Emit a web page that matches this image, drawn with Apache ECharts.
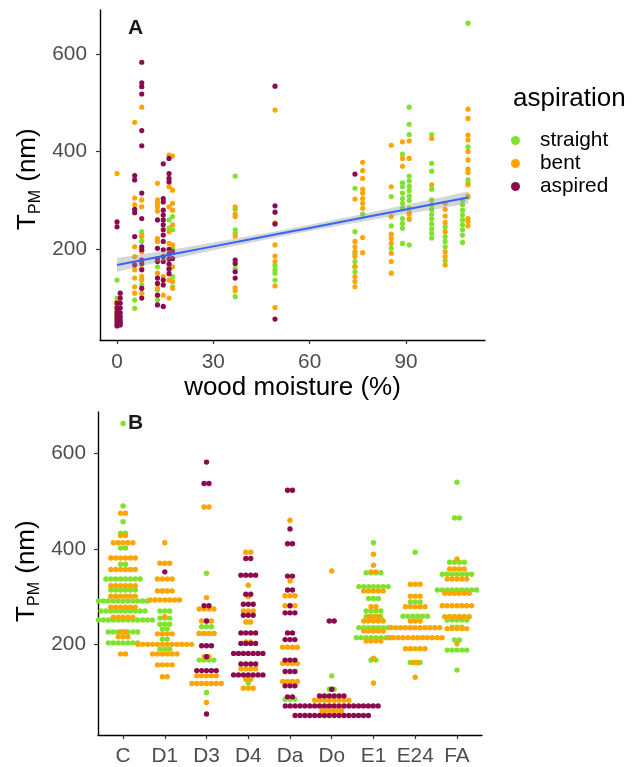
<!DOCTYPE html>
<html><head><meta charset="utf-8">
<script src="https://cdn.jsdelivr.net/npm/echarts@6/dist/echarts.min.js"></script>
<style>html,body{margin:0;padding:0;background:#fff}#c{width:639px;height:767px}</style>
</head><body><div id="c"></div>
<script>
// ---------- Panel A data: [wood moisture %, T_PM nm] ----------
const straightA = [
[0,137],[0,100],[5.5,96],[5.5,79],[7.7,236],[7.7,226],[7.7,216],[7.7,127],
[12.6,164],[12.6,117],[12.6,96],[16.2,260],[16.2,244],
[17.3,267],[17.3,240],[17.3,202],[17.3,144],[17.3,123],
[36.8,350],[36.8,282],[36.8,240],[36.8,233],[36.8,161],[36.8,103],
[49.2,167],[49.2,158],[49.2,151],[49.2,137],
[74.1,325],[74.1,236],[74.1,190],[74.1,175],[74.1,165],[74.1,154],
[76.5,272],[85.4,308],[85.4,248],[85.4,202],
[88.9,395],[88.9,336],[88.9,328],[88.9,315],[88.9,304],[88.9,294],[88.9,284],[88.9,263],[88.9,253],[88.9,243],[88.9,212],
[91,491],[91,456],[91,435],[91,350],[91,340],[91,329],[91,320],[91,309],[91,300],[91,284],[91,272],[91,261],[91,209],
[98,435],[98,376],[98,360],[98,323],[98,301],[98,291],[98,281],[98,271],[98,262],[98,252],[98,242],[98,233],[98,223],
[102.2,246],[102.2,226],[102.2,216],[102.2,205],[102.2,177],
[107.6,301],[107.6,291],[107.6,280],[107.6,270],[107.6,260],[107.6,250],[107.6,240],[107.6,229],[107.6,214],
[109.3,663],[109.3,410],[109.3,342],[109.3,335],[109.3,307]
];
const bentA = [
[0,355],[0,93],[0,85],[0,78],[0,70],[0,62],[0,55],[0.6,88],[0.6,74],[0.6,66],
[5.5,460],[5.5,305],[5.5,291],[5.5,205],[5.5,185],[5.5,158],[5.5,141],[5.5,123],[5.5,110],
[7.7,491],[7.7,301],[7.7,287],[7.7,228],[7.7,195],[7.7,161],[7.7,144],[7.7,137],[7.7,110],
[12.6,335],[12.6,301],[12.6,294],[12.6,287],[12.6,278],[12.6,222],[12.6,216],[12.6,151],[12.6,120],
[14.4,144],[14.4,106],
[16.2,393],[16.2,328],[16.2,287],[16.2,236],[16.2,212],[16.2,158],[16.2,137],[16.2,100],
[17.3,391],[17.3,321],[17.3,294],[17.3,280],[17.3,250],[17.3,209],[17.3,164],[17.3,134],[17.3,120],
[36.8,287],[36.8,272],[36.8,267],[36.8,227],[36.8,121],[36.8,115],
[49.2,485],[49.2,254],[49.2,209],[49.2,186],[49.2,175],[49.2,125],[49.2,81],
[74.1,303],[74.1,216],[74.1,205],[74.1,195],[74.1,185],[74.1,164],[74.1,144],[74.1,134],[74.1,123],
[76.5,378],[76.5,361],[76.5,345],[76.5,323],[76.5,315],[76.5,304],[76.5,294],[76.5,284],[76.5,224],[76.5,193],
[85.4,413],[85.4,328],[85.4,267],[85.4,231],[85.4,222],[85.4,212],[85.4,192],[85.4,175],[85.4,151],
[88.9,420],[88.9,386],[88.9,370],[91,422],[91,386],[91,274],[91,263],
[98,427],[98,332],
[102.2,294],[102.2,282],[102.2,268],[102.2,255],[102.2,236],[102.2,195],[102.2,185],[102.2,168],
[109.3,487],[109.3,468],[109.3,434],[109.3,424],[109.3,400],[109.3,383],[109.3,364],[109.3,357],[109.3,332],[109.3,309],[109.3,263],[109.3,257],[109.3,248]
];
const aspiredA = [
[0,256],[0,246],[0,90],[0,80],[0,72],[0,65],[0,58],[0,52],[0,47],[0,43],
[1,110],[1,100],[1,90],[1,80],[1,70],[1,62],[1,55],[1,50],[1,45],
[5.5,351],[5.5,342],[5.5,282],[5.5,275],[5.5,226],[5.5,168],
[7.7,583],[7.7,541],[7.7,533],[7.7,518],[7.7,443],[7.7,412],[7.7,315],[7.7,263],[7.7,205],[7.7,199],[7.7,178],[7.7,171],[7.7,158],[7.7,120],[7.7,100],
[12.6,260],[12.6,202],[12.6,181],[12.6,175],[12.6,141],[12.6,130],[12.6,106],[12.6,86],
[14.4,375],[14.4,304],[14.4,297],[14.4,280],[14.4,270],[14.4,260],[14.4,250],[14.4,240],[14.4,229],[14.4,216],[14.4,199],[14.4,185],[14.4,175],[14.4,137],[14.4,127],[14.4,83],
[16.2,386],[16.2,355],[16.2,345],[16.2,338],[16.2,200],[16.2,190],[16.2,180],[16.2,170],[16.2,160],[16.2,150],
[17.3,195],[17.3,181],
[36.8,178],[36.8,171],[36.8,154],[36.8,141],
[49.2,534],[49.2,289],[49.2,276],[49.2,252],[49.2,57],
[74.1,354]
];
// linear fit and its confidence band
const fitX   = [0, 10, 20, 30, 40, 50, 60, 70, 80, 90, 100, 109.4];
const fitY   = [168, 180.6, 193.2, 205.9, 218.5, 231.1, 243.7, 256.3, 269, 281.6, 294.2, 306];
const bandLo = [154, 169.1, 183.7, 197.9, 211.5, 224.6, 237.2, 249.3, 261, 272.1, 283.2, 293.5];
const bandHi = [182, 192.1, 202.7, 213.9, 225.5, 237.6, 250.2, 263.3, 277, 291.1, 305.2, 318.5];
const ticksA_x = [0, 30, 60, 90];
const ticksY = [200, 400, 600];

// ---------- Panel B data: [category, binned T_PM, number of dots] ----------
const categories = ['C','D1','D3','D4','Da','Do','E1','E24','FA'];
const straightB = [
['C',663,1],['C',490,1],['C',457,1],['C',433,2],['C',402,2],['C',368,2],['C',337,8],['C',314,6],['C',291,11],['C',270,10],['C',251,13],['C',226,7],['C',203,7],
['D1',312,2],['D1',270,3],['D1',255,3],['D1',242,3],['D1',232,2],['D1',211,2],['D1',190,3],
['D3',349,1],['D3',237,3],['D3',223,4],['D3',167,4],['D3',99,1],
['D4',247,1],['D4',119,1],
['Da',85,3],
['Do',134,1],['Do',106,2],
['E1',413,1],['E1',350,4],['E1',321,7],['E1',296,3],['E1',270,4],['E1',258,4],['E1',235,7],['E1',214,8],['E1',167,2],
['E24',393,1],['E24',289,3],['E24',259,6],['E24',162,3],
['FA',540,1],['FA',465,2],['FA',372,4],['FA',347,7],['FA',314,9],['FA',258,4],['FA',251,5],['FA',236,3],['FA',209,2],['FA',188,5],['FA',146,1]
];
const bentB = [
['C',475,2],['C',428,2],['C',413,5],['C',381,6],['C',357,6],['C',323,6],['C',301,6],['C',278,6],['C',257,5],['C',226,2],['C',216,3],['C',180,2],
['D1',413,1],['D1',370,3],['D1',337,4],['D1',312,4],['D1',293,7],['D1',258,1],['D1',222,4],['D1',200,12],['D1',180,6],['D1',157,4],['D1',132,2],
['D3',488,2],['D3',298,1],['D3',274,4],['D3',249,3],['D3',223,4],['D3',174,2],['D3',134,5],['D3',118,7],['D3',78,1],
['D4',393,2],['D4',324,1],['D4',300,1],['D4',270,3],['D4',247,2],['D4',205,2],['D4',149,4],['D4',127,2],['D4',108,3],
['Da',460,1],['Da',333,1],['Da',302,3],['Da',281,3],['Da',194,4],['Da',160,4],['Da',122,4],
['Do',354,1],['Do',83,8],['Do',61,5],
['E1',389,1],['E1',366,1],['E1',352,2],['E1',312,5],['E1',279,2],['E1',258,3],['E1',249,5],['E1',228,5],['E1',207,4],['E1',171,1],['E1',119,1],
['E24',326,3],['E24',301,3],['E24',279,5],['E24',249,3],['E24',235,11],['E24',214,12],['E24',191,5],['E24',162,2],['E24',131,1],
['FA',379,1],['FA',358,4],['FA',337,5],['FA',307,6],['FA',281,7],['FA',258,6],['FA',233,5],['FA',201,1]
];
const aspiredB = [
['D1',352,1],
['D3',582,1],['D3',537,2],['D3',281,2],['D3',249,1],['D3',197,3],['D3',174,1],['D3',145,5],['D3',54,1],
['D4',380,2],['D4',345,4],['D4',305,2],['D4',284,3],['D4',261,3],['D4',224,4],['D4',202,4],['D4',181,7],['D4',159,4],['D4',136,7],
['Da',523,2],['Da',442,1],['Da',411,2],['Da',343,2],['Da',314,2],['Da',281,1],['Da',266,3],['Da',224,2],['Da',210,3],['Da',167,3],['Da',143,3],['Da',113,3],['Da',90,2],
['Do',249,2],['Do',106,1],['Do',92,6],['Do',71,20],['Do',51,16]
];

const groups = ['straight','bent','aspired'];
const colors = {straight:'#7FE22E', bent:'#FFA500', aspired:'#8B0A50'};
const FONT = '"Liberation Sans", Arial, Helvetica, sans-serif';
const DOT = 0.117; // horizontal dot pitch in category units (dot-plot stacking)

function dotplot(rows){
  const out = [];
  rows.forEach(([cat, v, n]) => {
    const c = categories.indexOf(cat) + 1;
    for (let i = 0; i < n; i++) out.push([c + (i - (n - 1) / 2) * DOT, v]);
  });
  return out;
}

const axisCommon = {
  axisLine: {show: true, onZero: false, lineStyle: {color: '#000', width: 1.4}},
  axisTick: {show: true, length: 4, lineStyle: {color: '#333', width: 1.2}},
  splitLine: {show: false},
  axisLabel: {color: '#4D4D4D', fontSize: 20.8, fontFamily: FONT}
};

function yTitle(cx, cy){
  return {type: 'group', x: cx, y: cy, rotation: Math.PI / 2, children: [
    {type: 'text', x: -54, y: 0, style: {text: 'T', fontSize: 26, fontFamily: FONT, fill: '#000', verticalAlign: 'middle'}},
    {type: 'text', x: -38, y: 8, style: {text: 'PM', fontSize: 16, fontFamily: FONT, fill: '#000', verticalAlign: 'middle'}},
    {type: 'text', x: -13, y: 0, style: {text: ' (nm)', fontSize: 26, fontFamily: FONT, fill: '#000', verticalAlign: 'middle'}}
  ]};
}

const series = [];
groups.forEach((g, k) => {
  const dA = [straightA, bentA, aspiredA][k];
  series.push({name: g, type: 'scatter', xAxisIndex: 0, yAxisIndex: 0, data: dA,
    symbolSize: 5.2, itemStyle: {color: colors[g], opacity: 1}, z: 2});
});
series.push({type: 'custom', xAxisIndex: 0, yAxisIndex: 0, data: [0], silent: true, z: 3,
  renderItem: (params, api) => {
    const pts = fitX.map((x, i) => api.coord([x, bandHi[i]]))
      .concat(fitX.map((x, i) => api.coord([x, bandLo[i]])).reverse());
    return {type: 'polygon', shape: {points: pts}, style: {fill: 'rgba(153,153,153,0.4)'}};
  }});
series.push({type: 'line', xAxisIndex: 0, yAxisIndex: 0, data: fitX.map((x, i) => [x, fitY[i]]),
  showSymbol: false, silent: true, lineStyle: {color: '#3366FF', width: 2}, z: 4});
groups.forEach((g, k) => {
  const dB = [straightB, bentB, aspiredB][k];
  series.push({name: g, type: 'scatter', xAxisIndex: 1, yAxisIndex: 1, data: dotplot(dB),
    symbolSize: 5.4, itemStyle: {color: colors[g], opacity: 1}, z: 2});
});

const chart = echarts.init(document.getElementById('c'), null, {renderer: 'canvas'});
chart.setOption({
  animation: false,
  backgroundColor: '#fff',
  textStyle: {fontFamily: FONT},
  grid: [
    {left: 100, top: 10, width: 385, height: 330},
    {left: 98, top: 412, width: 384, height: 323}
  ],
  xAxis: [
    Object.assign({}, axisCommon, {type: 'value', gridIndex: 0, min: -5.3, max: 114.6,
      axisLabel: Object.assign({}, axisCommon.axisLabel, {customValues: ticksA_x, margin: 12}),
      axisTick: Object.assign({}, axisCommon.axisTick, {customValues: ticksA_x}),
      name: 'wood moisture (%)', nameLocation: 'middle', nameGap: 35,
      nameTextStyle: {fontSize: 26, color: '#000', fontFamily: FONT}}),
    Object.assign({}, axisCommon, {type: 'value', gridIndex: 1, min: 0.4, max: 9.6,
      axisLabel: Object.assign({}, axisCommon.axisLabel, {customValues: [1,2,3,4,5,6,7,8,9], margin: 11,
        formatter: v => categories[Math.round(v) - 1] || ''}),
      axisTick: Object.assign({}, axisCommon.axisTick, {customValues: [1,2,3,4,5,6,7,8,9]})})
  ],
  yAxis: [
    Object.assign({}, axisCommon, {type: 'value', gridIndex: 0, min: 14.2, max: 690,
      axisLabel: Object.assign({}, axisCommon.axisLabel, {customValues: ticksY, margin: 13}),
      axisTick: Object.assign({}, axisCommon.axisTick, {customValues: ticksY})}),
    Object.assign({}, axisCommon, {type: 'value', gridIndex: 1, min: 10, max: 687,
      axisLabel: Object.assign({}, axisCommon.axisLabel, {customValues: ticksY, margin: 12}),
      axisTick: Object.assign({}, axisCommon.axisTick, {customValues: ticksY})})
  ],
  legend: {data: groups, orient: 'vertical', left: 506, top: 124, icon: 'circle',
    itemWidth: 39, itemHeight: 9, itemGap: 0, selectedMode: false,
    textStyle: {fontSize: 20.8, color: '#000', fontFamily: FONT, lineHeight: 23}},
  graphic: [
    {type: 'text', left: 513, top: 86, style: {text: 'aspiration', fontSize: 26, fontFamily: FONT, fill: '#000'}},
    {type: 'text', x: 128, y: 28, style: {text: 'A', fontSize: 21, fontWeight: 'bold', fontFamily: FONT, fill: '#1A1A1A', verticalAlign: 'middle'}},
    {type: 'text', x: 128, y: 423, style: {text: 'B', fontSize: 21, fontWeight: 'bold', fontFamily: FONT, fill: '#1A1A1A', verticalAlign: 'middle'}},
    yTitle(28, 176),
    yTitle(27, 568)
  ],
  series: series
});
</script></body></html>
